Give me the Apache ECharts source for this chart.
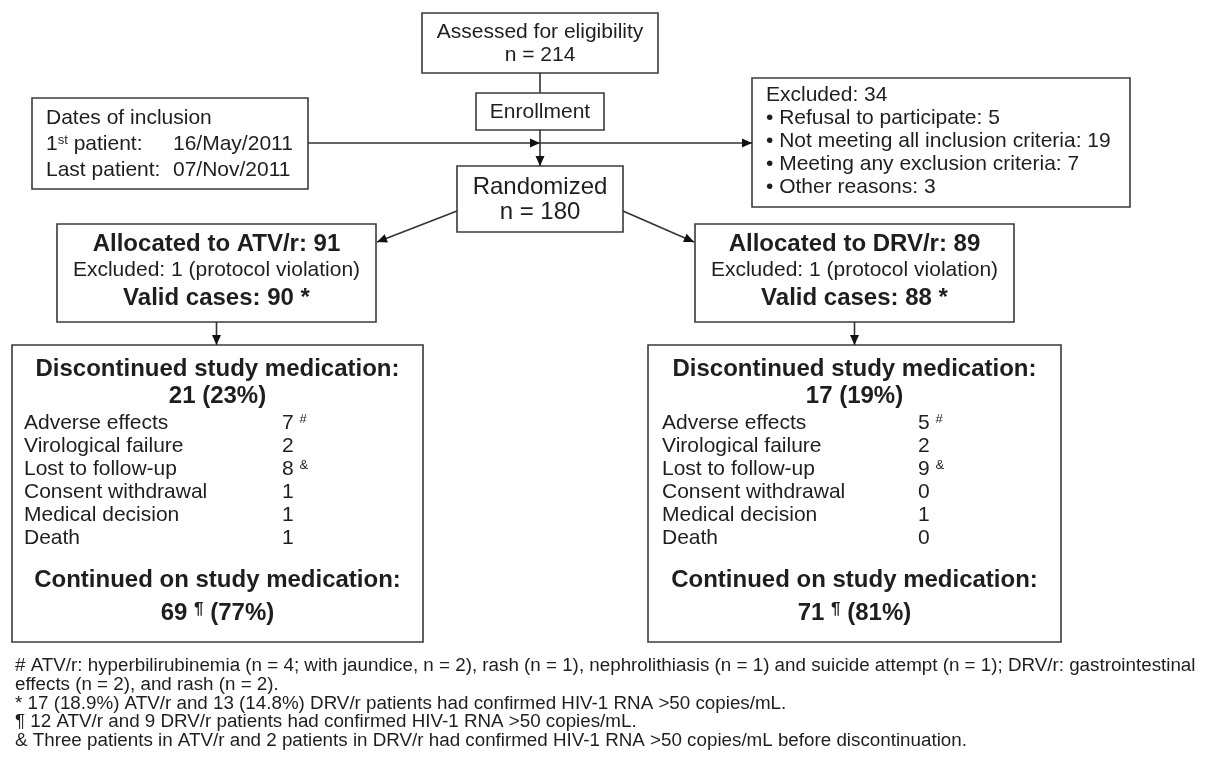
<!DOCTYPE html>
<html>
<head>
<meta charset="utf-8">
<script src="https://cdn.jsdelivr.net/npm/echarts@6/dist/echarts.min.js"></script>
<style>html,body{margin:0;padding:0;background:#fff}#chart{width:1213px;height:770px}</style>
</head>
<body>
<div id="chart"></div>
<script>
// ---------------- data ----------------
const assessedN = 214;
const randomizedN = 180;
const enrollmentLabel = 'Enrollment';
const inclusionDates = ['16/May/2011', '07/Nov/2011'];
const excludedTotal = 34;
const excludedReasons = ['Refusal to participate', 'Not meeting all inclusion criteria', 'Meeting any exclusion criteria', 'Other reasons'];
const excludedCounts = [5, 19, 7, 3];
const arms = ['ATV/r', 'DRV/r'];
const allocated = [91, 89];
const protocolExcluded = [1, 1];
const validCases = [90, 88];
const discontinued = [21, 17];
const discontinuedPct = [23, 19];
const continuedN = [69, 71];
const continuedPct = [77, 81];
const discReasons = ['Adverse effects', 'Virological failure', 'Lost to follow-up', 'Consent withdrawal', 'Medical decision', 'Death'];
const discReasonMarks = ['#', '', '&', '', '', ''];
const atvReasonCounts = [7, 2, 8, 1, 1, 1];
const drvReasonCounts = [5, 2, 9, 0, 1, 0];
const footnotes = [
  '# ATV/r: hyperbilirubinemia (n = 4; with jaundice, n = 2), rash (n = 1), nephrolithiasis (n = 1) and suicide attempt (n = 1); DRV/r: gastrointestinal',
  'effects (n = 2), and rash (n = 2).',
  '* 17 (18.9%) ATV/r and 13 (14.8%) DRV/r patients had confirmed HIV-1 RNA >50 copies/mL.',
  '\u00b6 12 ATV/r and 9 DRV/r patients had confirmed HIV-1 RNA >50 copies/mL.',
  '& Three patients in ATV/r and 2 patients in DRV/r had confirmed HIV-1 RNA >50 copies/mL before discontinuation.'
];

// ---------------- drawing helpers ----------------
const FF = '"Liberation Sans", Arial, Helvetica, sans-serif';
const TXT = '#1e1e1e';
const LINE = '#333';
const els = [];

function box(x, y, w, h) {
  els.push({type: 'rect', z: 1, shape: {x: x, y: y, width: w, height: h},
    style: {fill: '#fff', stroke: '#3a3a3a', lineWidth: 1.6}});
}
function sup(size, weight) {
  return {fontSize: size, fontWeight: weight || 'normal', fontFamily: FF, fill: TXT, verticalAlign: 'top'};
}
function text(x, y, str, size, weight, align, rich) {
  const st = {text: str, fontSize: size, fontWeight: weight || 'normal', fontFamily: FF, fill: TXT,
    align: align || 'left', textAlign: align || 'left', verticalAlign: 'middle', textVerticalAlign: 'middle'};
  if (rich) st.rich = rich;
  els.push({type: 'text', z: 5, x: x, y: y, style: st});
}
function line(x1, y1, x2, y2) {
  els.push({type: 'line', z: 3, shape: {x1: x1, y1: y1, x2: x2, y2: y2}, style: {stroke: LINE, lineWidth: 1.6}});
}
function head(x1, y1, x2, y2) {
  const L = 10, W = 4.5;
  const dx = x2 - x1, dy = y2 - y1, d = Math.sqrt(dx * dx + dy * dy);
  const ux = dx / d, uy = dy / d;
  const bx = x2 - ux * L, by = y2 - uy * L;
  els.push({type: 'polygon', z: 4, shape: {points: [[x2, y2], [bx - uy * W, by + ux * W], [bx + uy * W, by - ux * W]]},
    style: {fill: '#111'}});
}
function arrow(x1, y1, x2, y2) { line(x1, y1, x2, y2); head(x1, y1, x2, y2); }

// ---------------- layout ----------------
// assessed
box(422, 13, 236, 60);
text(540, 32, 'Assessed for eligibility', 21, 'normal', 'center');
text(540, 55, 'n = ' + assessedN, 21, 'normal', 'center');
line(540, 73, 540, 93);
// enrollment
box(476, 93, 128, 37);
text(540, 112, enrollmentLabel, 21, 'normal', 'center');
arrow(540, 130, 540, 166);
// horizontal flow line
line(308, 143, 752, 143);
head(500, 143, 540, 143);
head(700, 143, 752, 143);
// dates box
box(32, 98, 276, 91);
text(46, 118, 'Dates of inclusion', 21);
text(46, 144, '1{s|st} patient:', 21, 'normal', 'left', {s: sup(13)});
text(173, 144, inclusionDates[0], 21);
text(46, 170, 'Last patient:', 21);
text(173, 170, inclusionDates[1], 21);
// excluded box
box(752, 78, 378, 129);
text(766, 95, 'Excluded: ' + excludedTotal, 21);
excludedReasons.forEach(function (r, i) {
  text(766, 118 + i * 23, '\u2022 ' + r + ': ' + excludedCounts[i], 21);
});
// randomized
box(457, 166, 166, 66);
text(540, 187, 'Randomized', 24, 'normal', 'center');
text(540, 212, 'n = ' + randomizedN, 24, 'normal', 'center');
arrow(457, 211, 377, 242);
arrow(623, 211, 694, 242);

// arm columns
const armBox = [{x: 57, w: 319}, {x: 695, w: 319}];
const outBox = [{x: 12, w: 411, lab: 24, val: 282}, {x: 648, w: 413, lab: 662, val: 918}];
const armCounts = [atvReasonCounts, drvReasonCounts];
arms.forEach(function (arm, a) {
  const b = armBox[a];
  const cx = b.x + b.w / 2;
  box(b.x, 224, b.w, 98);
  text(cx, 244, 'Allocated to ' + arm + ': ' + allocated[a], 24, 'bold', 'center');
  text(cx, 270, 'Excluded: ' + protocolExcluded[a] + ' (protocol violation)', 21, 'normal', 'center');
  text(cx, 298, 'Valid cases: ' + validCases[a] + ' *', 24, 'bold', 'center');
  const o = outBox[a];
  const ocx = o.x + o.w / 2;
  arrow(cx, 322, cx, 345);
  box(o.x, 345, o.w, 297);
  text(ocx, 369, 'Discontinued study medication:', 24, 'bold', 'center');
  text(ocx, 396, discontinued[a] + ' (' + discontinuedPct[a] + '%)', 24, 'bold', 'center');
  discReasons.forEach(function (r, i) {
    const y = 423 + i * 23;
    text(o.lab, y, r, 21);
    const mark = discReasonMarks[i];
    text(o.val, y, armCounts[a][i] + (mark ? ' {s|' + mark + '}' : ''), 21, 'normal', 'left', {s: sup(13)});
  });
  text(ocx, 580, 'Continued on study medication:', 24, 'bold', 'center');
  text(ocx, 613, continuedN[a] + ' {p|\u00b6} (' + continuedPct[a] + '%)', 24, 'bold', 'center', {p: sup(17, 'bold')});
});

// footnotes
footnotes.forEach(function (f, i) {
  text(15, 666 + i * 18.75, f, 18.8);
});

const chart = echarts.init(document.getElementById('chart'), null, {renderer: 'canvas'});
chart.setOption({backgroundColor: '#fff', animation: false, graphic: {elements: els}});
</script>
</body>
</html>
